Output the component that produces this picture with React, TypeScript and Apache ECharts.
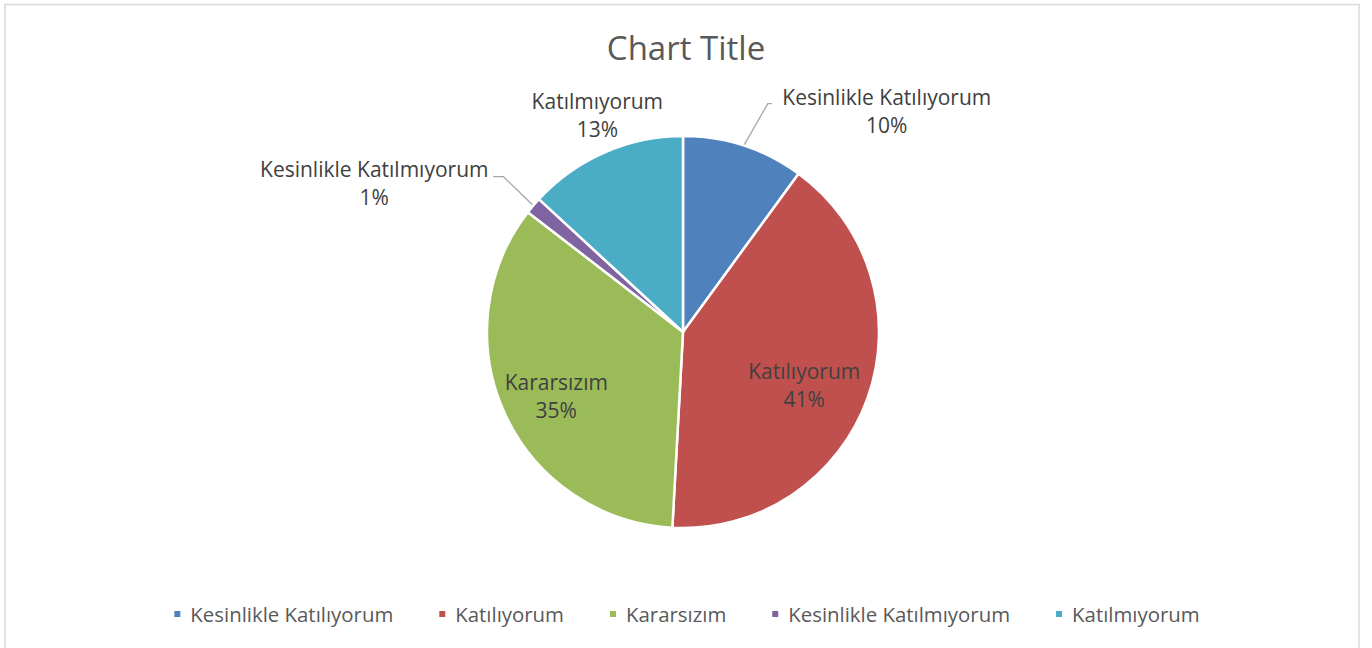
import React, { useEffect, useRef } from "react";
import * as echarts from "echarts";

const categories = [
  "Kesinlikle Katılıyorum",
  "Katılıyorum",
  "Kararsızım",
  "Kesinlikle Katılmıyorum",
  "Katılmıyorum",
];
const values = [29, 118, 100, 4, 38];
const colors = ["#4F81BD", "#C0504D", "#9BBB59", "#8064A2", "#4BACC6"];

// label placement (style): f = radius factor of anchor, dx/dy = offset of label centre,
// line = [bendDx, bendDy, tailDx] for leader line (null = none)
const labelPlace = [
  { f: 1, dx: 143, dy: -35, line: [24, -42, 4] },
  { f: 0.7, dx: -8, dy: 7, line: null },
  { f: 0.7, dx: -2, dy: 7, line: null },
  { f: 1, dx: -159, dy: -23, line: [-30, -29, -10] },
  { f: 1, dx: -7, dy: -37, line: null },
];

const FONT = "Open Sans";
const CX = 683;
const CY = 332;
const R = 196;

export default function App() {
  const ref = useRef<HTMLDivElement>(null);
  useEffect(() => {
    if (!ref.current) return;
    const chart = echarts.init(ref.current, undefined, { renderer: "svg" });
    const total = values.reduce((a, b) => a + b, 0);
    const mids: number[] = [];
    let acc = 0;
    values.forEach((v) => {
      const a0 = (acc / total) * Math.PI * 2;
      acc += v;
      const a1 = (acc / total) * Math.PI * 2;
      mids.push((a0 + a1) / 2);
    });
    chart.setOption({
      animation: false,
      title: {
        text: "Chart Title",
        left: "center",
        top: 26,
        textStyle: { fontFamily: FONT, fontSize: 33, fontWeight: "normal", color: "#595959" },
      },
      graphic: [
        {
          type: "rect",
          shape: { x: 5, y: 4.5, width: 1354, height: 700 },
          style: { fill: "none", stroke: "#d9d9d9", lineWidth: 1.5 },
          silent: true,
        },
      ],
      legend: {
        top: 599,
        left: "center",
        itemWidth: 8,
        itemHeight: 8,
        itemGap: 44,
        icon: "rect",
        textStyle: { fontFamily: FONT, fontSize: 20.4, color: "#595959", padding: [0, 0, 0, 4] },
        data: categories,
      },
      series: [
        {
          type: "pie",
          center: [CX, CY],
          radius: R,
          startAngle: 90,
          clockwise: true,
          avoidLabelOverlap: false,
          itemStyle: { borderColor: "#ffffff", borderWidth: 2.5 },
          label: {
            show: true,
            position: "outside",
            fontFamily: FONT,
            fontSize: 21,
            lineHeight: 28,
            color: "#404040",
            formatter: (p: any) => `${p.name}\n${Math.round(p.percent)}%`,
          },
          labelLine: { show: true, lineStyle: { color: "#a6a6a6", width: 1.3 } },
          labelLayout: (p: any) => {
            const i = p.dataIndex;
            const pl = labelPlace[i];
            const mid = mids[i];
            const r = R * pl.f;
            const ex = CX + r * Math.sin(mid);
            const ey = CY - r * Math.cos(mid);
            const res: any = {
              x: ex + pl.dx,
              y: ey + pl.dy,
              align: "center",
              verticalAlign: "middle",
            };
            if (pl.line) {
              const bx = ex + pl.line[0];
              const by = ey + pl.line[1];
              res.labelLinePoints = [
                [ex, ey],
                [bx, by],
                [bx + pl.line[2], by],
              ];
            }
            return res;
          },
          data: categories.map((name, i) => ({
            name,
            value: values[i],
            itemStyle: { color: colors[i] },
            labelLine: { show: !!labelPlace[i].line },
          })),
        },
      ],
    });
    return () => chart.dispose();
  }, []);
  return (
    <div
      ref={ref}
      style={{ position: "absolute", left: 0, top: 0, width: 1372, height: 648, background: "#fff" }}
    />
  );
}
